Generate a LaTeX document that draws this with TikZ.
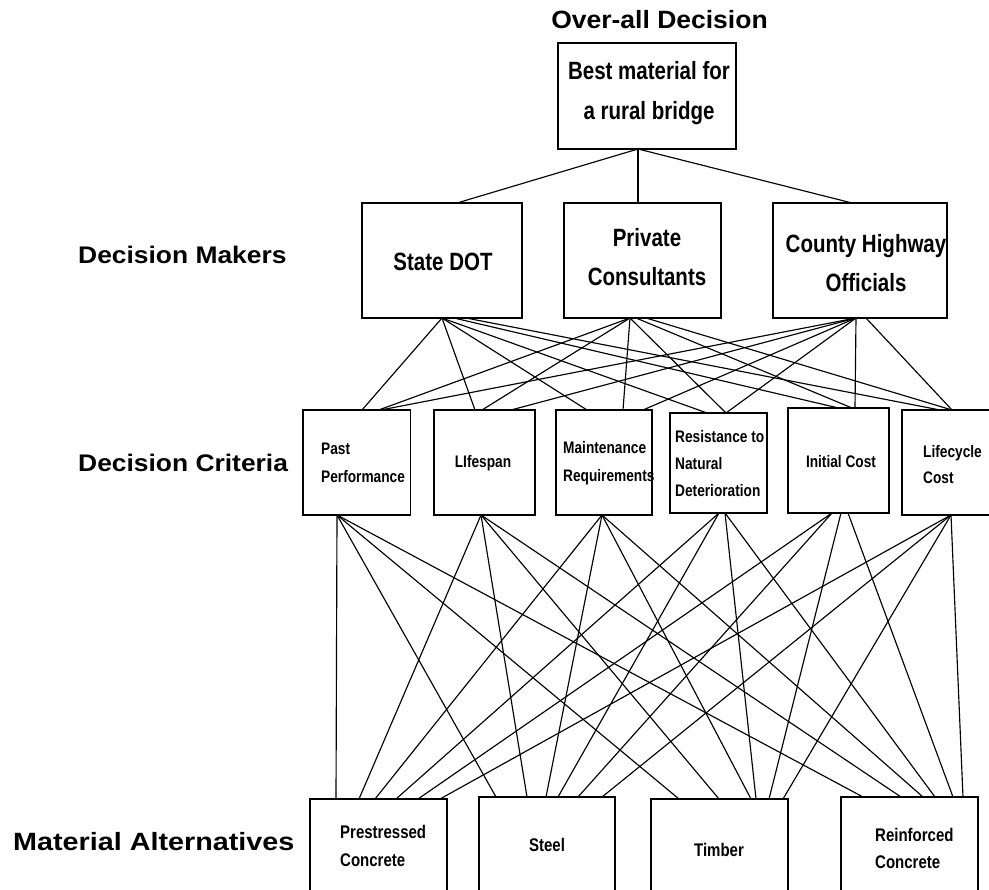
\documentclass[tikz,border=0pt]{standalone}
\usepackage{fontspec}
\setmainfont{Liberation Sans}
\newfontfamily\narrowfont[FakeStretch=0.82]{Liberation Sans}
\newfontfamily\labelfont[FakeStretch=1.15]{Liberation Sans}
\newfontfamily\midfont[FakeStretch=1.1]{Liberation Sans}
\newfontfamily\headfont[FakeStretch=1.06]{Liberation Sans}
\begin{document}
\begin{tikzpicture}[x=1pt,y=-1pt,
  box/.style={draw,line width=1.4pt,rectangle,inner sep=0pt,outer sep=0pt},
  link/.style={line width=1.15pt},
  txt/.style={inner sep=0pt,font=\narrowfont\bfseries},
  lbl/.style={inner sep=0pt,anchor=west,font=\midfont\bfseries\fontsize{24}{30}\selectfont}]
\useasboundingbox (0,0) rectangle (989,890);
\clip (0,0) rectangle (989,890);
% boxes
\node[box,minimum width=178pt,minimum height=106pt] (top) at (647,96) {};
\node[box,minimum width=160pt,minimum height=115pt] (sd) at (442,260.5) {};
\node[box,minimum width=157pt,minimum height=115pt] (pc) at (642.5,260.5) {};
\node[box,minimum width=174pt,minimum height=115pt] (ch) at (860,260.5) {};
\node[box,minimum width=107.5pt,minimum height=105pt] (pp) at (356.75,462.5) {};
\node[box,minimum width=101pt,minimum height=105pt] (ls) at (484.5,462.5) {};
\node[box,minimum width=96pt,minimum height=105pt] (mr) at (604,462.5) {};
\node[box,minimum width=97pt,minimum height=100pt] (rn) at (718.5,463) {};
\node[box,minimum width=101pt,minimum height=105pt] (ic) at (838.5,460.5) {};
\node[box,minimum width=94pt,minimum height=105pt] (lc) at (949,462.5) {};
\node[box,minimum width=137pt,minimum height=131pt] (prc) at (378.5,864.5) {};
\node[box,minimum width=136pt,minimum height=133pt] (st) at (547,863.5) {};
\node[box,minimum width=137pt,minimum height=131pt] (tb) at (719.5,864.5) {};
\node[box,minimum width=137pt,minimum height=133pt] (rc) at (909.5,863.5) {};
% texts
\node[inner sep=0pt,font=\headfont\bfseries\fontsize{25}{30}\selectfont] (overall) at (659.5,20) {Over-all Decision};
\node[txt,align=center,font=\narrowfont\bfseries\fontsize{25}{40}\selectfont] (toptext) at (649,93) {Best material for\\a rural bridge};
\node[txt,font=\narrowfont\bfseries\fontsize{25}{39}\selectfont] (sdtext) at (443,262) {State DOT};
\node[txt,align=center,font=\narrowfont\bfseries\fontsize{25}{39}\selectfont] (pctext) at (647,257.5) {Private\\Consultants};
\node[txt,align=center,font=\narrowfont\bfseries\fontsize{25}{39}\selectfont] (chtext) at (866,263.5) {County Highway\\Officials};
\node[txt,anchor=west,align=left,font=\narrowfont\bfseries\fontsize{16.7}{28}\selectfont] (pptext) at (321,462.5) {Past\\Performance};
\node[txt,font=\narrowfont\bfseries\fontsize{16.7}{28}\selectfont] (lstext) at (483,463) {LIfespan};
\node[txt,anchor=west,align=left,font=\narrowfont\bfseries\fontsize{16.7}{28}\selectfont] (mrtext) at (563,463) {Maintenance\\Requirements};
\node[txt,anchor=west,align=left,font=\narrowfont\bfseries\fontsize{16.7}{27}\selectfont] (rntext) at (675,464) {Resistance to\\Natural\\Deterioration};
\node[txt,font=\narrowfont\bfseries\fontsize{16.7}{28}\selectfont] (ictext) at (841,462) {Initial Cost};
\node[txt,anchor=west,align=left,font=\narrowfont\bfseries\fontsize{16.7}{26}\selectfont] (lctext) at (923,465) {Lifecycle\\Cost};
\node[txt,anchor=west,align=left,font=\narrowfont\bfseries\fontsize{18.3}{28}\selectfont] (prctext) at (340,846) {Prestressed\\Concrete};
\node[txt,font=\narrowfont\bfseries\fontsize{18.3}{28}\selectfont] (sttext) at (547,845) {Steel};
\node[txt,font=\narrowfont\bfseries\fontsize{18.3}{28}\selectfont] (tbtext) at (719,850) {Timber};
\node[txt,anchor=west,align=left,font=\narrowfont\bfseries\fontsize{18.3}{27}\selectfont] (rctext) at (875,848.5) {Reinforced\\Concrete};
\node[lbl] (dm) at (78,255) {Decision Makers};
\node[lbl] (dc) at (78,463) {Decision Criteria};
\node[lbl,font=\labelfont\bfseries\fontsize{25}{30}\selectfont] (ma) at (13,842) {Material Alternatives};
% top to decision makers
\draw[link] ([xshift=-9pt]top.south) -- ([xshift=15pt]sd.north);
\draw[link] ([xshift=-9pt]top.south) -- ([xshift=-4.5pt]pc.north);
\draw[link] ([xshift=-9pt]top.south) -- ([xshift=-8pt]ch.north);
% decision makers to criteria
\foreach \s/\ss/\t/\ts in {sd/0/pp/5.25, sd/0/ls/-9.5, sd/0/mr/-17, sd/0/rn/-11.5, sd/12/ic/0, sd/24/lc/-9,
  pc/-12.5/pp/22, pc/-12.5/ls/-2.5, pc/-12.5/mr/19, pc/-12.5/rn/7.5, pc/-6.5/ic/13.5, pc/3.5/lc/3,
  ch/-4/pp/24, ch/-4/ls/26.5, ch/-4/mr/39, ch/-4/rn/7.5, ch/-4/ic/16.5, ch/6/lc/3}
  \draw[link] ([xshift=\ss pt]\s.south) -- ([xshift=\ts pt]\t.north);
% criteria to materials
\foreach \s/\ss/\t/\ts in {pp/-19.75/prc/-42.5, pp/-19.75/st/-51, pp/-19.75/tb/-40.5, pp/-19.75/rc/-46.5,
  ls/-3.5/prc/-19.5, ls/-3.5/st/-20, ls/-3.5/tb/-0.5, ls/-3.5/rc/-8.5,
  mr/-2/prc/-3.5, mr/-2/st/-1, mr/-2/tb/31.5, mr/-2/rc/13.5,
  rn/0.5/prc/17.5, rn/0.5/st/11, rn/6.5/tb/36.5, rn/6.5/rc/25.5,
  ic/-6.5/prc/39.5, ic/-6.5/st/31, ic/2.5/tb/49.5, ic/9.5/rc/43.5,
  lc/2/prc/61.5, lc/2/st/55, lc/2/tb/63.5, lc/2/rc/53.5}
  \draw[link] ([xshift=\ss pt]\s.south) -- ([xshift=\ts pt]\t.north);
\end{tikzpicture}
\end{document}
